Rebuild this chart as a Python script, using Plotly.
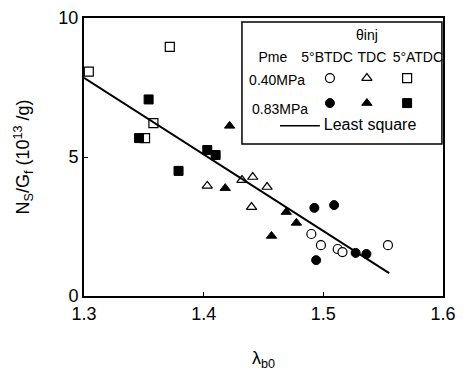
import plotly.graph_objects as go

# data: (lambda_b0, Ns/Gf)
btdc_040_x = [1.490, 1.498, 1.512, 1.516, 1.554]
btdc_040_y = [2.23, 1.83, 1.69, 1.58, 1.83]
btdc_083_x = [1.4925, 1.509, 1.494, 1.527, 1.536]
btdc_083_y = [3.17, 3.27, 1.29, 1.55, 1.51]
tdc_040_x = [1.403, 1.432, 1.441, 1.453, 1.440]
tdc_040_y = [3.96, 4.17, 4.28, 3.92, 3.20]
tdc_083_x = [1.4217, 1.418, 1.469, 1.4775, 1.4567]
tdc_083_y = [6.12, 3.88, 3.02, 2.63, 2.16]
atdc_040_x = [1.3717, 1.304, 1.358, 1.351]
atdc_040_y = [8.96, 8.07, 6.22, 5.68]
atdc_083_x = [1.354, 1.346, 1.403, 1.410, 1.379]
atdc_083_y = [7.07, 5.68, 5.25, 5.07, 4.50]
fit_x = [1.30, 1.555]
fit_y = [7.85, 0.82]

x_ticks = [1.3, 1.4, 1.5, 1.6]
y_ticks = [0, 5, 10]

legend_header = ["θinj", "Pme", "5°BTDC", "TDC", "5°ATDC"]
legend_rows = ["0.40MPa", "0.83MPa"]
legend_line_label = "Least square"

FONT = "Liberation Sans, Arial, sans-serif"
fig = go.Figure()

def open_m(sym):
    return dict(symbol=sym, size=9, color="white", line=dict(color="black", width=1.2))

def fill_m(sym):
    return dict(symbol=sym, size=9, color="black", line=dict(color="black", width=1))

series = [
    (btdc_040_x, btdc_040_y, open_m("circle")),
    (btdc_083_x, btdc_083_y, fill_m("circle")),
    (tdc_040_x, tdc_040_y, open_m("triangle-up")),
    (tdc_083_x, tdc_083_y, fill_m("triangle-up")),
    (atdc_040_x, atdc_040_y, open_m("square")),
    (atdc_083_x, atdc_083_y, fill_m("square")),
]
for xs, ys, m in series:
    fig.add_trace(go.Scatter(x=xs, y=ys, mode="markers", marker=m, showlegend=False, cliponaxis=False))
fig.add_trace(go.Scatter(x=fit_x, y=fit_y, mode="lines", line=dict(color="black", width=2), showlegend=False))

# legend drawn inside plot on an overlay axis (0..1)
leg_mx = [0.685, 0.788, 0.900]
leg_row = [0.784, 0.694]
syms = ["circle", "triangle-up", "square"]
for i, s in enumerate(syms):
    fig.add_trace(go.Scatter(x=[leg_mx[i]], y=[leg_row[0]], mode="markers", marker=open_m(s),
                             xaxis="x2", yaxis="y2", showlegend=False))
    fig.add_trace(go.Scatter(x=[leg_mx[i]], y=[leg_row[1]], mode="markers", marker=fill_m(s),
                             xaxis="x2", yaxis="y2", showlegend=False))
fig.add_trace(go.Scatter(x=[0.546, 0.657], y=[0.612, 0.612], mode="lines", line=dict(color="black", width=1.5),
                         xaxis="x2", yaxis="y2", showlegend=False))

# legend texts
fig.add_trace(go.Scatter(
    x=[0.788, 0.526, 0.677, 0.802, 0.930, 0.538, 0.546],
    y=[0.932, 0.856, 0.856, 0.856, 0.856, 0.770, 0.669],
    text=legend_header + legend_rows, mode="text", textposition="middle center",
    textfont=dict(family=FONT, size=14, color="black"),
    xaxis="x2", yaxis="y2", showlegend=False, cliponaxis=False, hoverinfo="skip"))
fig.add_trace(go.Scatter(
    x=[0.668], y=[0.612], text=[legend_line_label], mode="text", textposition="middle right",
    textfont=dict(family=FONT, size=16, color="black"),
    xaxis="x2", yaxis="y2", showlegend=False, cliponaxis=False, hoverinfo="skip"))

fig.add_shape(type="rect", xref="paper", yref="paper", x0=0.440, x1=0.997, y0=0.547, y1=0.986,
              line=dict(color="black", width=1.5), fillcolor="rgba(0,0,0,0)")

# page body has an 8px margin, so the figure is sized/offset to compensate
fig.update_layout(
    width=458, height=365,
    margin=dict(l=76, r=23, t=10, b=77),
    paper_bgcolor="white", plot_bgcolor="white",
    font=dict(family=FONT, size=18, color="black"),
    xaxis=dict(range=[1.3, 1.6], tickvals=x_ticks, ticktext=[f"{v:.1f}" for v in x_ticks],
               showgrid=False, zeroline=False, showline=True, mirror=True, linecolor="black", linewidth=2,
               ticks="inside", ticklen=4, tickcolor="black", automargin=False,
               title=dict(text="λ<sub>b0</sub>", font=dict(size=18), standoff=29)),
    yaxis=dict(range=[0, 10], tickvals=y_ticks, showgrid=False, zeroline=False, showline=True, mirror=True,
               linecolor="black", linewidth=2, ticks="inside", ticklen=4, tickcolor="black", automargin=False,
               title=dict(text="N<sub>S</sub>/G<sub>f</sub> (10<sup>13</sup> /g)", font=dict(size=18), standoff=24)),
    xaxis2=dict(range=[0, 1], overlaying="x", visible=False),
    yaxis2=dict(range=[0, 1], overlaying="y", visible=False),
)

fig.write_html("out.html")
